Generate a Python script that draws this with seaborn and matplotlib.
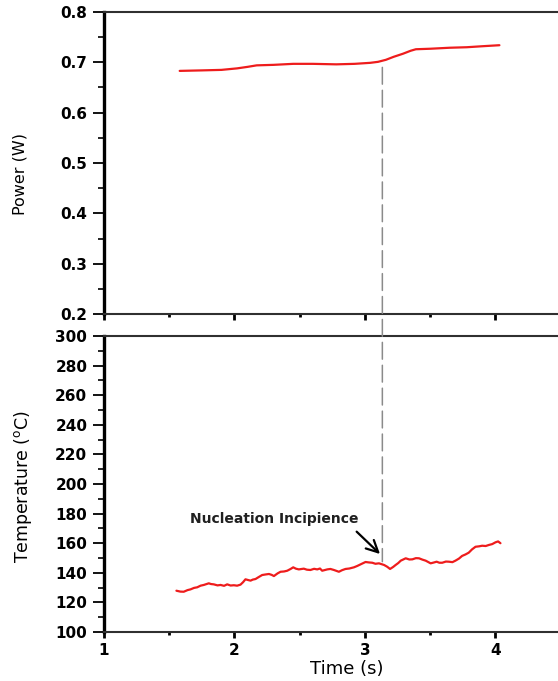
import matplotlib
matplotlib.use("Agg")
import matplotlib.pyplot as plt
from matplotlib.patches import ConnectionPatch
from matplotlib.ticker import MultipleLocator
import numpy as np
import pandas as pd
import seaborn as sns

# Heater power trace
power_time = [1.58, 1.75, 1.90, 2.02, 2.10, 2.17, 2.30, 2.45, 2.60, 2.78, 2.92, 3.04, 3.10,
              3.16, 3.22, 3.29, 3.35, 3.39, 3.50, 3.65, 3.78, 3.90, 4.03]
power_w = [0.683, 0.684, 0.685, 0.688, 0.691, 0.694, 0.695, 0.697, 0.697, 0.696, 0.697, 0.699, 0.701,
           0.705, 0.711, 0.717, 0.723, 0.726, 0.727, 0.729, 0.730, 0.732, 0.734]

# Surface temperature trace
temp_time = [1.555, 1.585, 1.611, 1.640, 1.663, 1.690, 1.714, 1.740, 1.765, 1.803, 1.820, 1.841,
             1.870, 1.893, 1.920, 1.944, 1.970, 1.995, 2.020, 2.046, 2.065, 2.084, 2.105, 2.123,
             2.140, 2.161, 2.185, 2.212, 2.240, 2.264, 2.285, 2.302, 2.330, 2.353, 2.380, 2.404,
             2.430, 2.450, 2.470, 2.493, 2.531, 2.555, 2.582, 2.610, 2.634, 2.655, 2.672, 2.711,
             2.735, 2.762, 2.800, 2.825, 2.851, 2.880, 2.915, 2.940, 2.966, 3.004, 3.030, 3.056,
             3.080, 3.107, 3.146, 3.170, 3.192, 3.215, 3.235, 3.255, 3.274, 3.312, 3.340, 3.363,
             3.390, 3.414, 3.440, 3.465, 3.503, 3.525, 3.549, 3.570, 3.592, 3.620, 3.643, 3.670,
             3.693, 3.720, 3.744, 3.770, 3.795, 3.820, 3.847, 3.875, 3.898, 3.925, 3.949, 3.975,
             4.000, 4.020, 4.038]
temp_c = [127.9, 127.3, 127.2, 128.3, 128.8, 129.8, 130.2, 131.3, 131.8, 132.9, 132.4, 132.2,
          131.5, 131.8, 131.2, 132.2, 131.4, 131.6, 131.3, 132.0, 133.6, 135.6, 135.1, 134.7,
          135.4, 135.8, 137.1, 138.5, 138.9, 139.2, 138.6, 137.8, 139.6, 140.7, 140.9, 141.4,
          142.6, 143.7, 142.8, 142.3, 142.8, 142.1, 141.9, 142.7, 142.3, 142.9, 141.4, 142.3,
          142.6, 141.9, 140.7, 141.8, 142.6, 142.9, 143.7, 144.6, 145.7, 147.3, 147.0, 146.8,
          146.1, 146.4, 145.3, 144.1, 142.6, 143.9, 145.3, 146.6, 148.2, 149.8, 149.0, 149.1,
          149.9, 149.8, 148.9, 148.2, 146.4, 146.9, 147.5, 146.8, 146.8, 147.6, 147.5, 147.2,
          148.2, 149.6, 151.4, 152.4, 153.6, 155.8, 157.6, 157.9, 158.3, 158.1, 158.8, 159.4,
          160.6, 161.2, 160.0]

# Onset of nucleation
onset_time = 3.133
onset_power = 0.690
onset_temp = 147.5
note_text = "Nucleation Incipience"
note_xy = (2.305, 173.9)
arrow_tail = (2.936, 167.8)
arrow_head = (3.115, 152.7)

power_df = pd.DataFrame({"Time (s)": power_time, "Power (W)": power_w})
temp_df = pd.DataFrame({"Time (s)": temp_time, "Temperature": temp_c})

sns.set_theme(style="ticks")
plt.rcParams["font.family"] = ["DejaVu Sans"]
plt.rcParams["mathtext.fontset"] = "dejavusans"

line_red = "#ee1c1c"
spine_dark = "#303030"

fig = plt.figure(figsize=(5.58, 6.81), dpi=100)
ax1 = fig.add_axes([0.18638, 0.53891, 0.81362, 0.44347])
ax2 = fig.add_axes([0.18638, 0.07195, 0.81362, 0.43465])

sns.lineplot(data=power_df, x="Time (s)", y="Power (W)", ax=ax1, color=line_red,
             linewidth=1.6, sort=False, estimator=None)
sns.lineplot(data=temp_df, x="Time (s)", y="Temperature", ax=ax2, color=line_red,
             linewidth=1.6, sort=False, estimator=None)

ax1.set_xlim(1, 4.479)
ax2.set_xlim(1, 4.479)
ax1.set_ylim(0.2, 0.8)
ax2.set_ylim(100, 300)

for ax in (ax1, ax2):
    ax.xaxis.set_major_locator(MultipleLocator(1))
    ax.xaxis.set_minor_locator(MultipleLocator(0.5))
    ax.spines["right"].set_visible(False)
    ax.spines["left"].set_linewidth(2.4)
    ax.spines["left"].set_color("black")
    for side in ("top", "bottom"):
        ax.spines[side].set_linewidth(1.5)
        ax.spines[side].set_color(spine_dark)
    ax.tick_params(axis="y", which="major", direction="out", length=8, width=1.3,
                   labelsize=11, pad=4, color="black")
    ax.tick_params(axis="y", which="minor", direction="out", length=4, width=1.2, color="black")
    ax.tick_params(axis="x", which="major", direction="out", length=4, width=2.0,
                   labelsize=11, pad=4, color="black")
    ax.tick_params(axis="x", which="minor", direction="out", length=2, width=2.0, color="black")
    ax.tick_params(top=False, right=False)

ax1.yaxis.set_major_locator(MultipleLocator(0.1))
ax1.yaxis.set_minor_locator(MultipleLocator(0.05))
ax2.yaxis.set_major_locator(MultipleLocator(20))
ax2.yaxis.set_minor_locator(MultipleLocator(10))
ax1.yaxis.set_major_formatter(matplotlib.ticker.FormatStrFormatter("%.1f"))
ax1.tick_params(axis="x", labelbottom=False)

for ax in (ax1, ax2):
    for lbl in ax.get_xticklabels() + ax.get_yticklabels():
        lbl.set_fontweight("bold")
        lbl.set_color("black")

ax1.set_xlabel("")
ax1.set_ylabel("Power (W)", fontsize=11.5, va="center", color="black")
ax1.yaxis.set_label_coords(-0.185, 0.4636)
ax2.set_ylabel(r"Temperature ($\mathregular{^{o}}$C)", fontsize=12.5, va="center", color="black")
ax2.yaxis.set_label_coords(-0.178, 0.493)
ax2.set_xlabel("Time (s)", fontsize=13, va="center", color="black")
ax2.xaxis.set_label_coords(0.535, -0.125)

# Dashed marker spanning both panels at the onset time
con = ConnectionPatch(xyA=(onset_time, onset_power), coordsA="data", axesA=ax1,
                      xyB=(onset_time, onset_temp), coordsB="data", axesB=ax2,
                      color="#8a8a8a", linewidth=1.1, linestyle=(0, (11, 4)))
fig.add_artist(con)

ax2.text(note_xy[0], note_xy[1], note_text, ha="center", va="baseline",
         fontsize=10, fontweight="bold", color="#202020")
ax2.annotate("", xy=arrow_head, xytext=arrow_tail,
             arrowprops=dict(arrowstyle="->,head_length=0.7,head_width=0.35",
                             lw=1.6, color="black", shrinkA=0, shrinkB=0))

fig.savefig("out.png", dpi=100)
